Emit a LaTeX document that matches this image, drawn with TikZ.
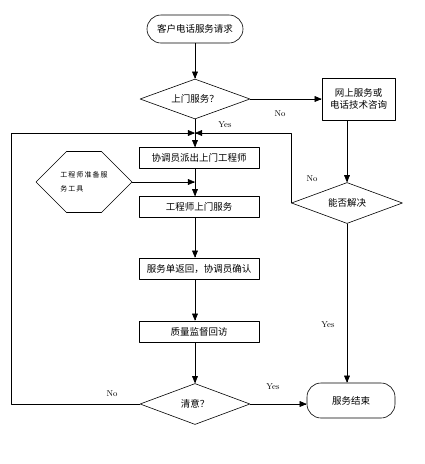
\documentclass[tikz,border=0pt]{standalone}
\usepackage{fontspec}
\newfontfamily\cjk{Noto Sans CJK SC}
\newfontfamily\cjkwide[LetterSpace=15]{Noto Sans CJK SC}
\usetikzlibrary{arrows,shapes.geometric,shapes.misc}

\begin{document}
\begin{tikzpicture}[line cap=round,line join=round,>=triangle 45,x=1pt,y=-1pt,line width=0.6pt]
\tikzset{
  cn/.style={font=\cjk\fontsize{9.5}{12}\selectfont},
  box/.style={cn,draw,rectangle,minimum width=120pt,minimum height=21pt,inner sep=1pt},
  term/.style={cn,draw,rectangle,rounded corners=14pt,inner sep=1pt},
  ask/.style={cn,draw,diamond,aspect=2.75,inner sep=0pt,minimum width=110pt,minimum height=40pt},
  tag/.style={font=\fontsize{8.5}{10}\selectfont}
}
\useasboundingbox (0,0) rectangle (424,464);

% nodes
\node[term,minimum width=96pt,minimum height=28pt] (start) at (195,29) {客户电话服务请求};
\node[ask] (onsite) at (195,99) {上门服务？};
\node[box,minimum width=73pt,minimum height=42pt,align=center] (web) at (358.5,99) {网上服务或\\电话技术咨询};
\node[ask,minimum width=111pt,minimum height=41pt] (solve) at (347,203) {能否解决};
\node[box] (dispatch) at (199,158) {协调员派出上门工程师};
\node[draw,chamfered rectangle,chamfered rectangle xsep=16pt,chamfered rectangle ysep=20.5pt,
  minimum width=96pt,minimum height=41pt,inner sep=0pt,align=left,font=\cjkwide\fontsize{7}{13.5}\selectfont] (tools) at (84,182) {工程师准备服\\务工具};
\node[box] (visit) at (199,207) {工程师上门服务};
\node[box] (back) at (199,268.5) {服务单返回，协调员确认};
\node[box] (check) at (199,331.5) {质量监督回访};
\node[ask,minimum height=41pt] (ok) at (195,404) {清意？};
\node[term,minimum width=88pt,minimum height=35pt] (finish) at (351,400.5) {服务结束};

\coordinate (join) at (195,133);
\coordinate (meet) at (195,182);

% connectors
\draw[->] (start) -- (onsite);
\draw[->] (onsite.east) -- (web.west);
\draw[->] (onsite.south) -- (onsite.south |- dispatch.north);
\draw[->] (solve.north |- web.south) -- (solve.north);
\draw[->] (solve.west) |- (join);
\draw[->] (ok.west) -- ++(-128,0) |- (join);
\draw[->] (tools.east) -- (meet);
\draw[->] (onsite.south |- dispatch.south) -- (onsite.south |- visit.north);
\draw[->] (onsite.south |- visit.south) -- (onsite.south |- back.north);
\draw[->] (onsite.south |- back.south) -- (onsite.south |- check.north);
\draw[->] (onsite.south |- check.south) -- (ok.north);
\draw[->] (ok.east) -- (finish.west |- ok.east);
\draw[->] (solve.south) -- (solve.south |- finish.north);

% labels
\draw (280,114) node[tag] {No};
\draw (225,125) node[tag] {Yes};
\draw (312,179) node[tag] {No};
\draw (328,325) node[tag] {Yes};
\draw (273,387) node[tag] {Yes};
\draw (112,394) node[tag] {No};
\end{tikzpicture}
\end{document}
